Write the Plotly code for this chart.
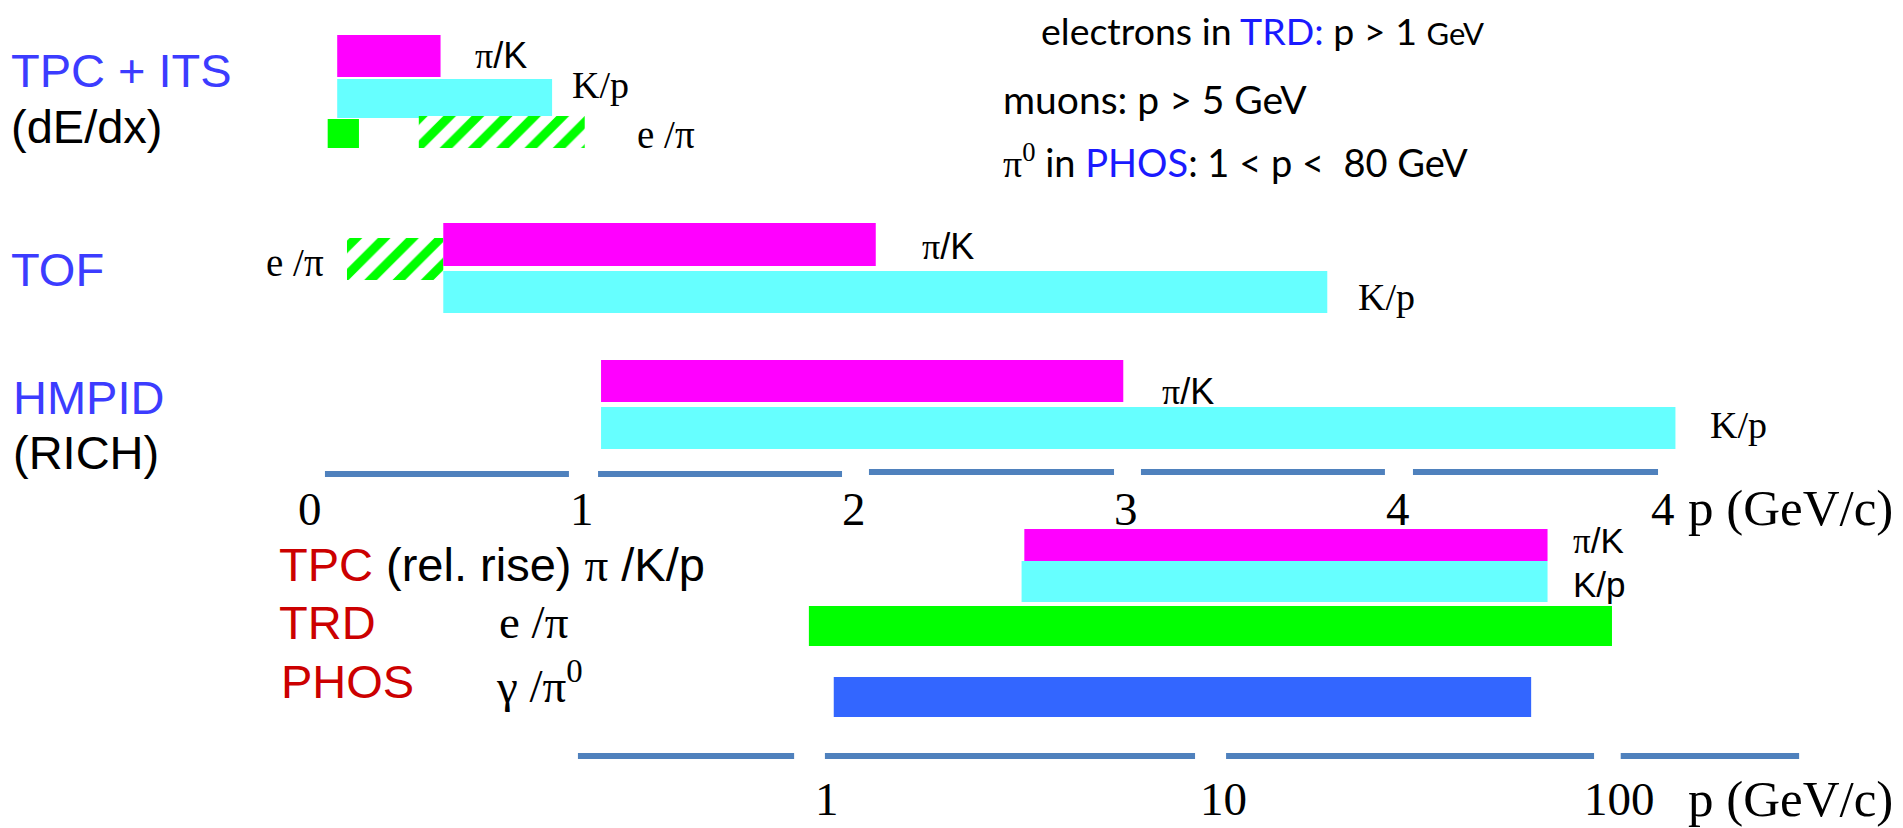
import math
import plotly.graph_objects as go

# ---------------- data (momentum in GeV/c) ----------------
# linear momentum axis
lin_tick_vals = [0, 1, 2, 3, 4, 5]
lin_tick_text = ["0", "1", "2", "3", "4", "4"]
# logarithmic momentum axis
log_tick_vals = [1, 10, 100]
log_tick_text = ["1", "10", "100"]

# low-momentum PID ranges [p_min, p_max]
tpcits_pi_k = [0.10, 0.48]
tpcits_k_p = [0.10, 0.89]
tpcits_e_pi_solid = [0.065, 0.18]
tpcits_e_pi_hatched = [0.40, 1.01]
tof_e_pi = [0.136, 0.49]
tof_pi_k = [0.49, 2.08]
tof_k_p = [0.49, 3.74]
hmpid_pi_k = [1.07, 2.99]
hmpid_k_p = [1.07, 5.02]

# high-momentum PID ranges [p_min, p_max]
tpc_relrise_pi_k = [3.15, 66.0]
tpc_relrise_k_p = [3.10, 66.0]
trd_e_pi = [0.90, 96.0]
phos_gamma_pi0 = [1.04, 60.0]

# broken axis baselines drawn between the tick labels
lin_axis_pieces = [[0.055, 0.952], [1.059, 1.956], [2.055, 2.956], [3.055, 3.952], [4.055, 4.956]]
log_axis_pieces = [[0.235, 0.826], [0.988, 8.5], [10.18, 86.5], [101.0, 285.0]]

# ---------------- styling ----------------
W, H = 1903, 828
MAGENTA = "#ff00ff"
CYAN = "#66ffff"
GREEN = "#00ff00"
BLUE_BAR = "#3366ff"
AXIS_BLUE = "#4f81bd"
DET_BLUE = "#3c3cff"
TXT_BLUE = "#1a1aff"
DET_RED = "#cc0000"
SANS = "Liberation Sans"
SERIF = "Liberation Serif"
NOTE = "Lato"

# pixel layout of the two momentum scales
LIN_X0, LIN_PX = 310.0, 272.0      # pixel of p=0, pixels per GeV/c
LOG_X0, LOG_PX = 827.0, 396.0      # pixel of p=1, pixels per decade

fig = go.Figure()


def bar(rng, yc, h, color, axis="x", hatched=False):
    marker = dict(color=color, line=dict(width=0))
    if hatched:
        marker = dict(color="white", line=dict(width=0),
                      pattern=dict(shape="/", fgcolor=GREEN, bgcolor="white",
                                   fgopacity=1, size=20, solidity=0.45))
    fig.add_trace(go.Bar(
        orientation="h", base=[rng[0]], x=[rng[1] - rng[0]], y=[yc], width=[h],
        marker=marker, xaxis=axis, yaxis="y", hoverinfo="skip", showlegend=False))


# TPC + ITS (dE/dx)
bar(tpcits_pi_k, 56, 42, MAGENTA)
bar(tpcits_k_p, 98.5, 39, CYAN)
bar(tpcits_e_pi_solid, 133.5, 29, GREEN)
bar(tpcits_e_pi_hatched, 132, 32, GREEN, hatched=True)
# TOF
bar(tof_e_pi, 259, 42, GREEN, hatched=True)
bar(tof_pi_k, 244.5, 43, MAGENTA)
bar(tof_k_p, 292, 42, CYAN)
# HMPID
bar(hmpid_pi_k, 381, 42, MAGENTA)
bar(hmpid_k_p, 428, 42, CYAN)
# high-momentum detectors on the log scale
bar(tpc_relrise_pi_k, 545, 32, MAGENTA, axis="x2")
bar(tpc_relrise_k_p, 581.5, 41, CYAN, axis="x2")
bar(trd_e_pi, 626, 40, GREEN, axis="x2")
bar(phos_gamma_pi0, 697, 40, BLUE_BAR, axis="x2")

# broken axis lines
for i, (a, b) in enumerate(lin_axis_pieces):
    yl = 474 if i < 2 else 472
    fig.add_trace(go.Scatter(x=[a, b], y=[yl, yl], mode="lines", xaxis="x", yaxis="y",
                             line=dict(color=AXIS_BLUE, width=6), hoverinfo="skip",
                             showlegend=False))
for a, b in log_axis_pieces:
    fig.add_trace(go.Scatter(x=[a, b], y=[756, 756], mode="lines", xaxis="x2", yaxis="y",
                             line=dict(color=AXIS_BLUE, width=6), hoverinfo="skip",
                             showlegend=False))

ann = []


def text(x, y, s, size, family=SANS, color="black", xref="paper", xanchor="left", xshift=0):
    if xref == "paper":
        x = x / W
    ann.append(dict(x=x, y=y, xref=xref, yref="y", text=s, showarrow=False,
                    xanchor=xanchor, yanchor="middle", xshift=xshift,
                    font=dict(family=family, size=size, color=color)))


PI_SERIF = f"<span style=\"font-family:'{SERIF}'\">π</span>"

# detector names
text(9, 70, "TPC + ITS", 47, color=DET_BLUE)
text(9, 126, "(dE/dx)", 47)
text(9, 269, "TOF", 47, color=DET_BLUE)
text(11, 397, "HMPID", 47, color=DET_BLUE)
text(11, 452, "(RICH)", 47)

text(277, 564, f"<span style=\"color:{DET_RED}\">TPC</span> (rel. rise) {PI_SERIF} /K/p", 47)
text(277, 622, "TRD", 47, color=DET_RED)
text(279, 681, "PHOS", 47, color=DET_RED)
text(497, 622, "e /π", 47, family=SERIF)
text(494, 682, "γ /π<sup>0</sup>", 47, family=SERIF)

# particle-pair labels next to the bars
text(tpcits_pi_k[1], 55, PI_SERIF + "/K", 36, xref="x", xshift=32)
text(tpcits_k_p[1], 85, "K/p", 38, family=SERIF, xref="x", xshift=18)
text(tpcits_e_pi_hatched[1], 134, "e /π", 39, family=SERIF, xref="x", xshift=50)
text(tof_e_pi[0], 262, "e /π", 39, family=SERIF, xref="x", xanchor="right", xshift=-21)
text(tof_pi_k[1], 246, PI_SERIF + "/K", 36, xref="x", xshift=44)
text(tof_k_p[1], 297, "K/p", 38, family=SERIF, xref="x", xshift=29)
text(hmpid_pi_k[1], 391, PI_SERIF + "/K", 36, xref="x", xshift=37)
text(hmpid_k_p[1], 425, "K/p", 38, family=SERIF, xref="x", xshift=33)
text(math.log10(tpc_relrise_pi_k[1]), 541, PI_SERIF + "/K", 35, xref="x2", xshift=23)
text(math.log10(tpc_relrise_k_p[1]), 584, "K/p", 35, xref="x2", xshift=23)

# tick labels
for v, t in zip(lin_tick_vals, lin_tick_text):
    ann.append(dict(x=v, y=509, xref="x", yref="y", text=t, showarrow=False,
                    xanchor="center", yanchor="middle", xshift=-7 if v == 5 else 0,
                    font=dict(family=SERIF, size=47, color="black")))
for v, t in zip(log_tick_vals, log_tick_text):
    ann.append(dict(x=math.log10(v), y=799, xref="x2", yref="y", text=t, showarrow=False,
                    xanchor="center", yanchor="middle",
                    font=dict(family=SERIF, size=47, color="black")))
text(1686, 508, "p (GeV/c)", 51, family=SERIF)
text(1686, 799, "p (GeV/c)", 51, family=SERIF)

# notes, upper right
text(1039, 30, f"electrons in <span style=\"color:{TXT_BLUE}\">TRD:</span> p &gt; 1 "
     "<span style=\"font-size:31px\">GeV</span>", 37.5, family=NOTE)
text(1001, 99, "muons: p &gt; 5 GeV", 39, family=NOTE)
text(1001, 161, f"<span style=\"font-family:'{SERIF}'\">π<sup>0</sup></span> in "
     f"<span style=\"color:{TXT_BLUE}\">PHOS</span>: 1 &lt; p &lt;&nbsp; 80 GeV", 38, family=NOTE)

fig.update_layout(
    width=W, height=H, margin=dict(l=0, r=0, t=0, b=0),
    paper_bgcolor="white", plot_bgcolor="white", barmode="overlay",
    showlegend=False, annotations=ann,
    xaxis=dict(range=[-LIN_X0 / LIN_PX, (W - LIN_X0) / LIN_PX], visible=False,
               domain=[0, 1], fixedrange=True),
    xaxis2=dict(type="log", range=[-LOG_X0 / LOG_PX, (W - LOG_X0) / LOG_PX],
                visible=False, overlaying="x", anchor="y", fixedrange=True),
    yaxis=dict(range=[H, 0], visible=False, domain=[0, 1], fixedrange=True),
)

fig.write_html("out.html")
